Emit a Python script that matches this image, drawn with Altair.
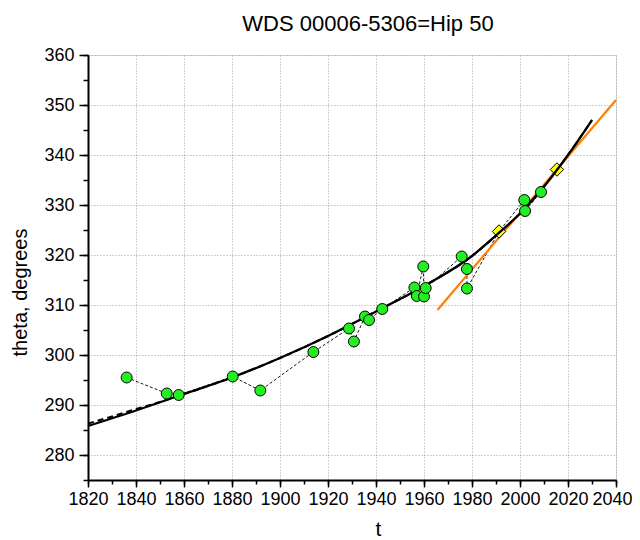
import altair as alt
import pandas as pd

# observations (green circles)
obs_t = [1836.1, 1852.8, 1857.8, 1880.3, 1891.8, 1913.9, 1928.75, 1930.8, 1935.4, 1937.1,
         1942.6, 1956.0, 1957.0, 1959.7, 1960.0, 1960.7, 1975.7, 1977.9, 1977.9,
         2001.8, 2002.1, 2008.75]
obs_theta = [295.5, 292.3, 292.0, 295.7, 292.9, 300.6, 305.3, 302.7, 307.7, 307.0,
             309.2, 313.5, 311.8, 317.7, 311.7, 313.4, 319.7, 317.2, 313.3,
             331.0, 328.8, 332.6]
# speckle measures (yellow diamonds)
spk_t = [1991.25, 2015.4]
spk_theta = [324.7, 337.1]
# orbit curve (solid)
orb_t = [1820, 1840, 1860, 1880, 1900, 1920, 1940, 1960, 1980, 1990, 2000, 2010, 2020, 2030]
orb_theta = [285.8, 288.9, 292.2, 295.5, 299.4, 303.8, 308.7, 313.8, 319.8, 323.9, 328.3, 333.7, 340.0, 347.0]
# alternative orbit (dashed)
orb2_t = [1820, 1830, 1840, 1850, 1860, 1880, 1900, 1920, 1940, 1960, 1980, 1990, 2000, 2010, 2020, 2030]
orb2_theta = [286.3, 287.7, 289.2, 290.6, 292.2, 295.5, 299.4, 303.8, 308.7, 313.8, 319.8, 323.9, 328.3, 333.7, 340.0, 347.0]
# linear fit (orange)
lin_t = [1965.6, 2040]
lin_theta = [309.0, 351.0]

# axis ticks
x_major = list(range(1820, 2041, 20))
x_minor = list(range(1820, 2041, 10))
y_major = list(range(280, 361, 10))
y_minor = list(range(275, 361, 5))

obs = pd.DataFrame({"t": obs_t, "theta": obs_theta, "kind": "obs"})
spk = pd.DataFrame({"t": spk_t, "theta": spk_theta, "kind": "spk"})
seq = pd.concat([obs, spk]).sort_values("t", kind="stable").reset_index(drop=True)
seq["order"] = range(len(seq))
orb = pd.DataFrame({"t": orb_t, "theta": orb_theta})
orb2 = pd.DataFrame({"t": orb2_t, "theta": orb2_theta})
lin = pd.DataFrame({"t": lin_t, "theta": lin_theta})

FONT = "Liberation Sans"
xs = alt.Scale(domain=[1820, 2040], nice=False, zero=False)
ys = alt.Scale(domain=[275, 360], nice=False, zero=False)

x_main_axis = alt.Axis(
    orient="bottom", values=x_major, format="d",
    title="t", titleFontSize=21, titleFont=FONT, titleFontWeight="normal",
    titleX=290, titleY=55, titleBaseline="alphabetic", titleColor="black",
    labelFont=FONT, labelFontSize=18, labelColor="black", labelPadding=3,
    labelFlush=False, labelOverlap=False,
    labelOffset={"condition": {"test": "datum.value === 2040", "value": -4}, "value": 0},
    domainColor="black", domainWidth=2,
    tickColor="black", tickWidth=1.5, tickSize=7,
    grid=True, gridColor="#a0a0a0", gridDash=[1, 2], gridWidth=1)
y_main_axis = alt.Axis(
    orient="left", values=y_major,
    title="theta, degrees", titleFontSize=20, titleFont=FONT, titleFontWeight="normal",
    titleX=-62, titleY=237, titleAngle=270, titleAlign="center",
    titleBaseline="alphabetic", titleColor="black",
    labelFont=FONT, labelFontSize=18, labelColor="black", labelPadding=5,
    labelFlush=False, labelOverlap=False,
    domainColor="black", domainWidth=2,
    tickColor="black", tickWidth=1.5, tickSize=9,
    grid=True, gridColor="#a0a0a0", gridDash=[1, 2], gridWidth=1)
x_minor_axis = alt.Axis(orient="bottom", values=x_minor, labels=False, domain=False, grid=False,
                        title=None, tickColor="black", tickWidth=1.5, tickSize=4)
y_minor_axis = alt.Axis(orient="left", values=y_minor, labels=False, domain=False, grid=False,
                        title=None, tickColor="black", tickWidth=1.5, tickSize=5)


def X(axis):
    return alt.X("t:Q", scale=xs, axis=axis)


def Y(axis):
    return alt.Y("theta:Q", scale=ys, axis=axis)


conn = alt.Chart(seq).mark_line(color="black", strokeWidth=0.9, strokeDash=[3, 2]).encode(
    x=X(x_minor_axis), y=Y(y_minor_axis), order="order:Q")
curve2 = alt.Chart(orb2).mark_line(color="black", strokeWidth=2, strokeDash=[6, 4],
                                   interpolate="monotone").encode(x=X(None), y=Y(None))
spkm = alt.Chart(spk).mark_point(shape="diamond", filled=True, fill="#FFFF00", stroke="black",
                                 strokeWidth=1, size=180, opacity=1).encode(x=X(None), y=Y(None))
curve = alt.Chart(orb).mark_line(color="black", strokeWidth=2.3,
                                 interpolate="monotone").encode(x=X(None), y=Y(None))
linm = alt.Chart(lin).mark_line(color="#FF8000", strokeWidth=2.2).encode(x=X(None), y=Y(None))
obsm = alt.Chart(obs).mark_circle(size=120, color="#22EE22", stroke="black", strokeWidth=1,
                                  opacity=1).encode(x=X(x_main_axis), y=Y(y_main_axis))

chart = alt.layer(conn, curve2, linm, spkm, curve, obsm).resolve_axis(
    x="independent", y="independent"
).properties(
    width=528, height=425,
    title=alt.TitleParams("WDS 00006-5306=Hip 50", font=FONT, fontSize=22, fontWeight="normal",
                          color="black", anchor="middle", frame="group", dx=16, offset=10),
    autosize=alt.AutoSizeParams(type="none"),
    padding={"left": 80, "top": 47, "right": 16, "bottom": 60},
).configure_view(stroke=None).configure(background="white")

chart.save("out.html", embed_options={"renderer": "svg", "actions": False})
